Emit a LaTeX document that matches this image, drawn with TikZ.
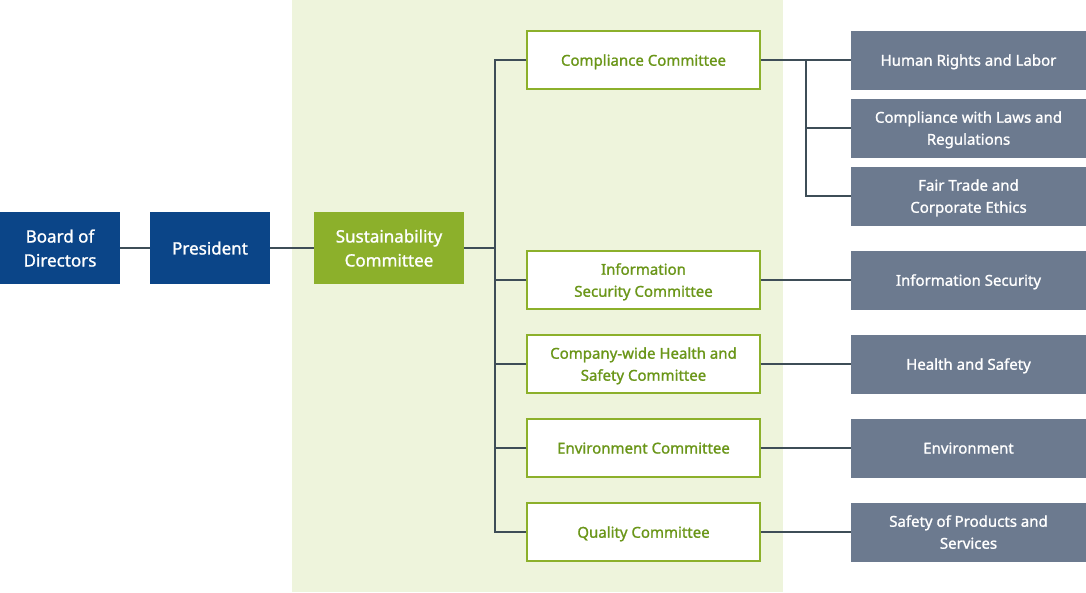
\documentclass[tikz,border=0pt]{standalone}
\usepackage{fontspec}
\setmainfont{Noto Sans}
\newfontfamily\med[FakeBold=1.2]{Noto Sans}
\definecolor{bgg}{HTML}{EEF4DC}
\definecolor{navy}{HTML}{0B4588}
\definecolor{lg}{HTML}{8CB02B}
\definecolor{tg}{HTML}{6A9618}
\definecolor{gr}{HTML}{6C7A8F}
\definecolor{ln}{HTML}{3E4D57}
\begin{document}
\begin{tikzpicture}[x=1pt,y=-1pt,
 blue/.style={fill=navy,text=white,minimum width=120pt,minimum height=72pt,align=center,font=\med\fontsize{17}{24}\selectfont,inner sep=0pt,text depth=-2pt},
 comm/.style={draw=lg,line width=1.2pt,fill=white,text=tg,minimum width=233pt,minimum height=58pt,align=center,font=\med\fontsize{15}{22}\selectfont,inner sep=0pt,text depth=-3pt},
 sub/.style={fill=gr,text=white,minimum width=235pt,minimum height=59pt,align=center,font=\med\fontsize{15}{22}\selectfont,inner sep=0pt,text depth=-3pt},
 con/.style={draw=ln,line width=1.2pt}]
\useasboundingbox (0,0) rectangle (1086,592);
\fill[bgg] (292,0) rectangle (783,592);
\node[blue] (bd) at (60,248) {Board of\\Directors};
\node[blue] (pr) at (210,248) {President};
\node[blue,fill=lg,minimum width=150pt] (sc) at (389,248) {Sustainability\\Committee};
\node[comm] (c1) at (643.5,60) {Compliance Committee};
\node[comm] (c2) at (643.5,280) {Information\\Security Committee};
\node[comm] (c3) at (643.5,364) {Company-wide Health and\\Safety Committee};
\node[comm] (c4) at (643.5,448) {Environment Committee};
\node[comm] (c5) at (643.5,532) {Quality Committee};
\node[sub] (s1) at (968.5,60) {Human Rights and Labor};
\node[sub] (s2) at (968.5,128) {Compliance with Laws and\\Regulations};
\node[sub] (s3) at (968.5,196) {Fair Trade and\\Corporate Ethics};
\node[sub] (s4) at (968.5,280) {Information Security};
\node[sub] (s5) at (968.5,364) {Health and Safety};
\node[sub] (s6) at (968.5,448) {Environment};
\node[sub] (s7) at (968.5,532) {Safety of Products and\\Services};
\coordinate (t) at (495,248);
\coordinate (u) at (806,60);
\draw[con] (bd) -- (pr);
\draw[con] (pr) -- (sc);
\draw[con] (sc) -- (t);
\draw[con] (c1.west) -| (t) |- (c5.west);
\foreach \c in {c2,c3,c4} \draw[con] (\c.west) -- (495,0|-\c.west);
\draw[con] (c1) -- (s1);
\draw[con] (u) |- (s3.west);
\draw[con] (u|-s2.west) -- (s2.west);
\draw[con] (c2) -- (s4);
\draw[con] (c3) -- (s5);
\draw[con] (c4) -- (s6);
\draw[con] (c5) -- (s7);
\end{tikzpicture}
\end{document}
